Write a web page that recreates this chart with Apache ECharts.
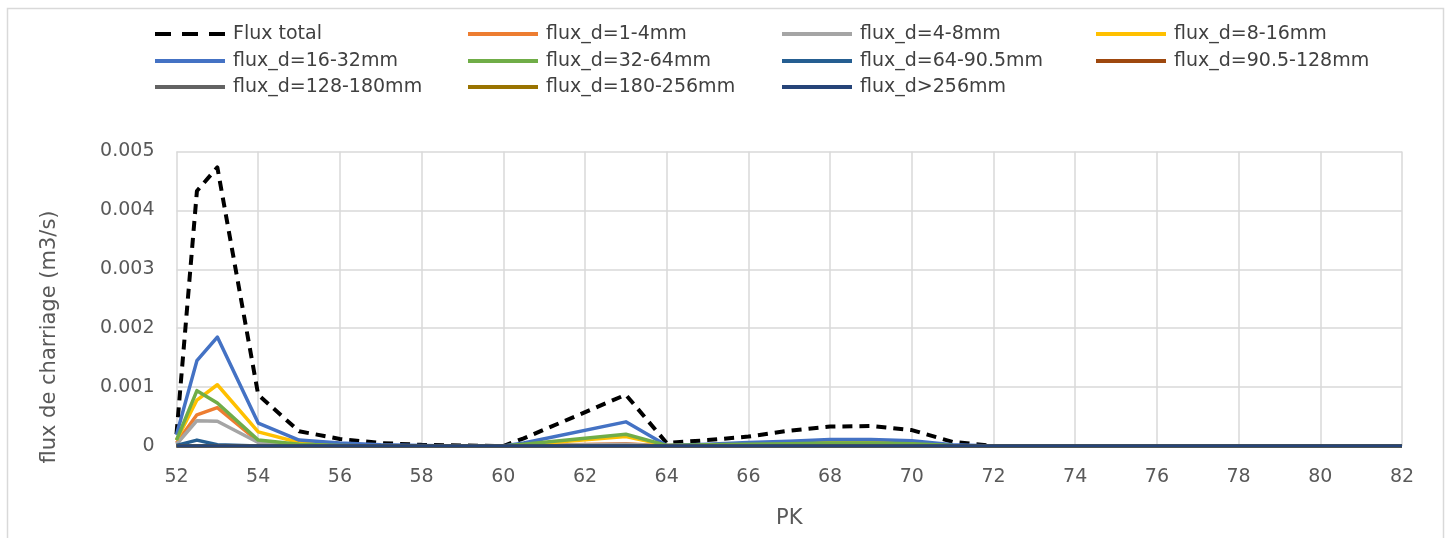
<!DOCTYPE html>
<html>
<head>
<meta charset="utf-8">
<script src="https://cdn.jsdelivr.net/npm/echarts@6/dist/echarts.min.js"></script>
<style>
html,body{margin:0;padding:0;background:#fff;}
#c{width:1448px;height:538px;}
</style>
</head>
<body>
<div id="c"></div>
<script>
// PK positions
const pk = [52, 52.5, 53, 54, 55, 56, 57, 58, 59, 60, 60.5, 63, 64, 65, 66, 67, 68, 69, 70, 71, 72, 74, 76, 78, 80, 82];

const fluxTotal = [0.0002, 0.00433, 0.00473, 0.00087, 0.00025, 0.00012, 0.00005, 0.00002, 0.00001, 0, 0.00013, 0.00087, 0.00005, 0.0001, 0.00016, 0.00026, 0.00033, 0.00034, 0.00027, 0.00007, 0, 0, 0, 0, 0, 0];
const flux1_4 = [0.00005, 0.00053, 0.00065, 0.00008, 0.00002, 0.00001, 0, 0, 0, 0, 0.00001, 0.00004, 0, 0.00001, 0.00001, 0.00002, 0.00003, 0.00003, 0.00002, 0, 0, 0, 0, 0, 0, 0];
const flux4_8 = [0.00003, 0.00043, 0.00042, 0.00006, 0.00001, 0, 0, 0, 0, 0, 0.00001, 0.00003, 0, 0.00001, 0.00001, 0.00002, 0.00003, 0.00003, 0.00002, 0, 0, 0, 0, 0, 0, 0];
const flux8_16 = [0.0001, 0.00078, 0.00104, 0.00024, 0.00006, 0.00002, 0.00001, 0, 0, 0, 0.00002, 0.00016, 0.00001, 0.00002, 0.00003, 0.00005, 0.00006, 0.00006, 0.00005, 0.00001, 0, 0, 0, 0, 0, 0];
const flux16_32 = [0.00019, 0.00145, 0.00185, 0.00039, 0.0001, 0.00005, 0.00002, 0.00001, 0, 0, 0.00005, 0.00041, 0.00001, 0.00003, 0.00006, 0.00008, 0.00011, 0.00011, 0.00009, 0.00002, 0, 0, 0, 0, 0, 0];
const flux32_64 = [0.0001, 0.00094, 0.00073, 0.0001, 0.00003, 0.00001, 0, 0, 0, 0, 0.00003, 0.0002, 0.00001, 0.00002, 0.00003, 0.00004, 0.00005, 0.00005, 0.00004, 0.00001, 0, 0, 0, 0, 0, 0];
const flux64_90 = [0.00001, 0.0001, 0.00002, 0, 0, 0, 0, 0, 0, 0, 0, 0, 0, 0, 0, 0, 0, 0, 0, 0, 0, 0, 0, 0, 0, 0];
const flux90_128 = [0, 0, 0, 0, 0, 0, 0, 0, 0, 0, 0, 0, 0, 0, 0, 0, 0, 0, 0, 0, 0, 0, 0, 0, 0, 0];
const flux128_180 = [0, 0, 0, 0, 0, 0, 0, 0, 0, 0, 0, 0, 0, 0, 0, 0, 0, 0, 0, 0, 0, 0, 0, 0, 0, 0];
const flux180_256 = [0, 0, 0, 0, 0, 0, 0, 0, 0, 0, 0, 0, 0, 0, 0, 0, 0, 0, 0, 0, 0, 0, 0, 0, 0, 0];
const flux256 = [0, 0, 0, 0, 0, 0, 0, 0, 0, 0, 0, 0, 0, 0, 0, 0, 0, 0, 0, 0, 0, 0, 0, 0, 0, 0];

const seriesNames = ['Flux total', 'flux_d=1-4mm', 'flux_d=4-8mm', 'flux_d=8-16mm', 'flux_d=16-32mm', 'flux_d=32-64mm', 'flux_d=64-90.5mm', 'flux_d=90.5-128mm', 'flux_d=128-180mm', 'flux_d=180-256mm', 'flux_d>256mm'];
const seriesValues = [fluxTotal, flux1_4, flux4_8, flux8_16, flux16_32, flux32_64, flux64_90, flux90_128, flux128_180, flux180_256, flux256];
const seriesColors = ['#000000', '#ED7D31', '#A5A5A5', '#FFC000', '#4472C4', '#70AD47', '#255E91', '#9E480E', '#636363', '#997300', '#264478'];

const xTicks = { min: 52, max: 82, interval: 2 };
const yTicks = { min: 0, max: 0.005, interval: 0.001 };
const yTitle = 'flux de charriage (m3/s)';
const xTitle = 'PK';

const FONT = 'DejaVu Sans';
const TXT = '#595959';

const series = seriesNames.map((name, i) => ({
  name: name,
  type: 'line',
  data: pk.map((x, j) => [x, seriesValues[i][j]]),
  symbol: 'none',
  showSymbol: false,
  z: 2 + i,
  lineStyle: {
    color: seriesColors[i],
    width: i === 0 ? 4 : 3.5,
    type: i === 0 ? [10, 7] : 'solid',
    cap: 'butt',
    join: 'round'
  },
  itemStyle: { color: seriesColors[i] }
}));

const SOLID_ICON = 'path://M0 0H70V4H0Z';
const DASH_ICON = 'path://M0 0H16V4H0Z M27 0H43V4H27Z M54 0H70V4H54Z';

const colLeft = [155, 468, 782, 1096];
const rowCenter = [34, 61, 87];
const legends = seriesNames.map((name, i) => ({
  show: true,
  data: [{ name: name, icon: i === 0 ? DASH_ICON : SOLID_ICON }],
  left: colLeft[i % 4],
  top: rowCenter[Math.floor(i / 4)] - 11,
  padding: 0,
  itemWidth: 70,
  itemHeight: 4,
  itemGap: 0,
  textStyle: { fontFamily: FONT, fontSize: 19, color: '#404040', lineHeight: 22, padding: [0, 0, 0, 3] }
}));

const chart = echarts.init(document.getElementById('c'), null, { renderer: 'canvas' });
chart.setOption({
  animation: false,
  backgroundColor: '#ffffff',
  legend: legends,
  grid: { left: 176.5, right: 46, top: 151.5, bottom: 92, containLabel: false },
  xAxis: {
    type: 'value',
    min: xTicks.min, max: xTicks.max, interval: xTicks.interval,
    name: xTitle,
    nameLocation: 'middle',
    nameGap: 62,
    nameTextStyle: { fontFamily: FONT, fontSize: 21, color: TXT },
    axisLine: { show: false },
    axisTick: { show: false },
    axisLabel: { fontFamily: FONT, fontSize: 19, color: TXT, margin: 22 },
    splitLine: { show: true, lineStyle: { color: '#D9D9D9', width: 1.5 } }
  },
  yAxis: {
    type: 'value',
    min: yTicks.min, max: yTicks.max, interval: yTicks.interval,
    axisLine: { show: false },
    axisTick: { show: false },
    axisLabel: { fontFamily: FONT, fontSize: 19, color: TXT, margin: 22,
      formatter: v => v === 0 ? '0' : v.toFixed(3) },
    splitLine: { show: true, lineStyle: { color: '#D9D9D9', width: 1.5 } }
  },
  graphic: [
    { type: 'rect', left: 5, top: 6, shape: { width: 1436, height: 545 },
      style: { fill: 'none', stroke: '#D9D9D9', lineWidth: 1.5 }, silent: true, z: -10 },
    { type: 'text', x: 50, y: 337, rotation: Math.PI / 2,
      style: { text: yTitle, fontFamily: FONT, fontSize: 21, fill: TXT, align: 'center', verticalAlign: 'middle' } }
  ],
  series: series
});
</script>
</body>
</html>
